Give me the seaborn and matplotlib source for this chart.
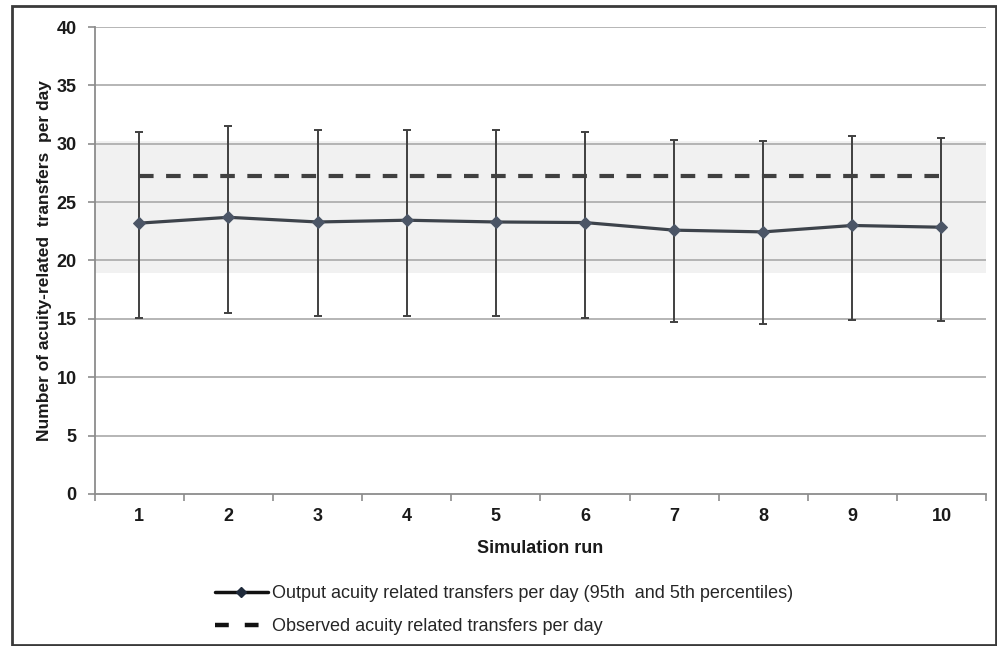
import matplotlib
matplotlib.use("Agg")
import matplotlib.pyplot as plt
from matplotlib.lines import Line2D
import seaborn as sns
import pandas as pd

# Simulation results: mean acuity-related transfers per day with 5th/95th percentiles
runs = [1, 2, 3, 4, 5, 6, 7, 8, 9, 10]
mean_transfers = [23.2, 23.7, 23.3, 23.45, 23.3, 23.25, 22.6, 22.45, 23.0, 22.85]
p95_transfers = [31.0, 31.5, 31.15, 31.15, 31.15, 31.0, 30.3, 30.2, 30.7, 30.45]
p5_transfers = [15.1, 15.5, 15.25, 15.25, 15.25, 15.1, 14.7, 14.55, 14.9, 14.8]
observed_transfers = 27.2
observed_band = (18.9, 30.2)

y_ticks = [0, 5, 10, 15, 20, 25, 30, 35, 40]

df = pd.DataFrame({
    "run": runs,
    "mean": mean_transfers,
    "p95": p95_transfers,
    "p5": p5_transfers,
    "observed": [observed_transfers] * len(runs),
})

sns.set_theme(style="white")
plt.rcParams["font.family"] = ["Liberation Sans", "DejaVu Sans"]

fig = plt.figure(figsize=(9.97, 6.46), dpi=100)
ax = fig.add_axes([0.095, 0.2353, 0.894, 0.7229])

dark = "#404040"
grid_c = "#a9a9a9"
axis_c = "#8c8c8c"
text_c = "#1a1a1a"

# observed range band
ax.axhspan(observed_band[0], observed_band[1], color="#f1f1f1", zorder=0, lw=0)

# horizontal gridlines
for t in y_ticks[1:]:
    ax.axhline(t, color=grid_c, lw=1.2, zorder=1)

# percentile whiskers
ax.errorbar(df["run"], df["mean"],
            yerr=[df["mean"] - df["p5"], df["p95"] - df["mean"]],
            fmt="none", ecolor=dark, elinewidth=1.4, capsize=3, capthick=1.4, zorder=2)

# observed level
sns.lineplot(data=df, x="run", y="observed", ax=ax, color=dark, lw=3,
             linestyle=(0, (3.5, 3)), zorder=3, legend=False)

# simulated mean
sns.lineplot(data=df, x="run", y="mean", ax=ax, color="#3d434b", lw=2.3,
             marker="D", markersize=6, markerfacecolor="#4b5566",
             markeredgecolor="#4b5566", zorder=4, legend=False)

ax.set_xlim(0.5, 10.5)
ax.set_ylim(0, 40)
ax.set_yticks(y_ticks)
ax.set_xticks(runs)
ax.set_xticks([r + 0.5 for r in [0] + runs], minor=True)

for side in ["top", "right"]:
    ax.spines[side].set_visible(False)
for side in ["left", "bottom"]:
    ax.spines[side].set_color(axis_c)
    ax.spines[side].set_linewidth(1.3)

ax.tick_params(axis="y", which="major", left=True, length=5, width=1.2,
               color=axis_c, labelsize=13, pad=8)
ax.tick_params(axis="x", which="major", bottom=False, labelsize=13, pad=4)
ax.tick_params(axis="x", which="minor", bottom=True, length=5, width=1.2,
               color=axis_c)
for lbl in ax.get_xticklabels() + ax.get_yticklabels():
    lbl.set_fontweight("bold")
    lbl.set_color(text_c)

ax.set_xlabel("Simulation run", fontsize=13, fontweight="bold", labelpad=11,
              color=text_c)
ax.set_ylabel("Number of acuity-related  transfers  per day", fontsize=12.5,
              fontweight="bold", labelpad=3, color=text_c)

handles = [
    Line2D([], [], color="#111111", lw=2.5, marker="D", markersize=5,
           markerfacecolor="#1f2a3a", markeredgecolor="#1f2a3a"),
    Line2D([], [], color="#111111", lw=3.2, linestyle=(0, (3.1, 3.6))),
]
labels = [
    "Output acuity related transfers per day (95th  and 5th percentiles)",
    "Observed acuity related transfers per day",
]
fig.legend(handles, labels, loc="upper left", bbox_to_anchor=(0.2086, 0.105),
           frameon=False, fontsize=13, handlelength=2.9, handletextpad=0.25,
           labelspacing=0.86, borderaxespad=0)

# outer chart border
fig.add_artist(plt.Rectangle((0.012, 0.001), 0.987, 0.99, transform=fig.transFigure,
                             fill=False, edgecolor="#3a3a3a", lw=2))

fig.savefig("out.png", dpi=100)
